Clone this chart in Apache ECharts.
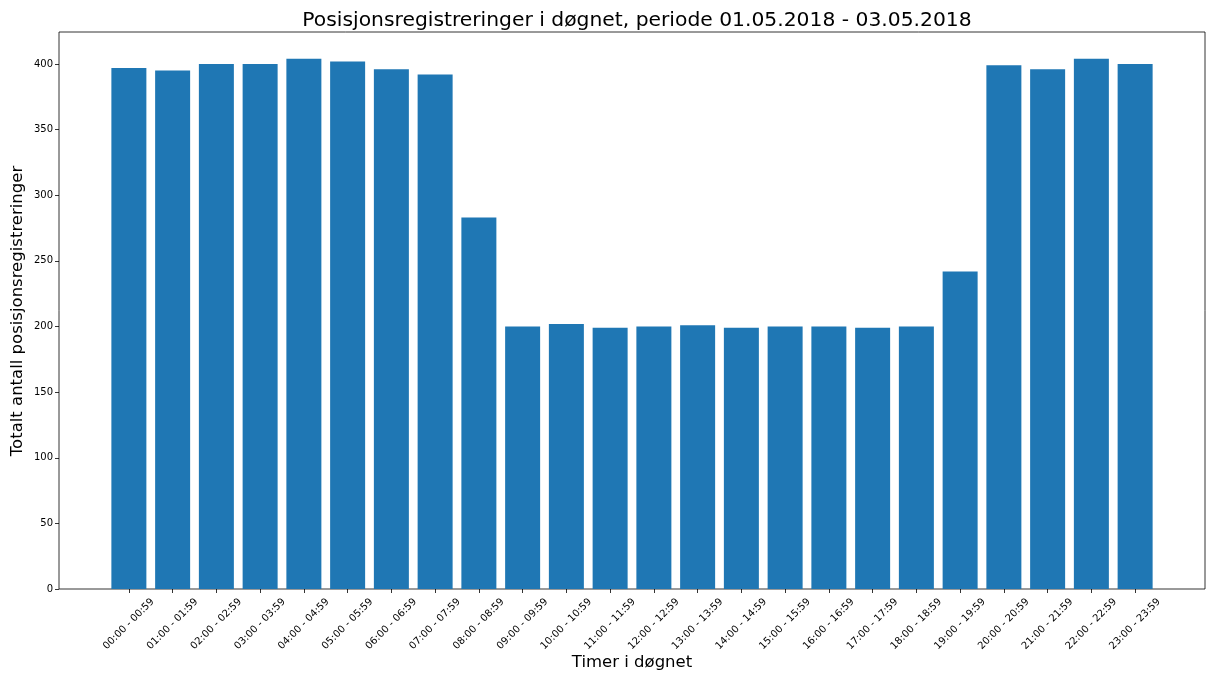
<!DOCTYPE html>
<html>
<head>
<meta charset="utf-8">
<script src="https://cdn.jsdelivr.net/npm/echarts@6/dist/echarts.min.js"></script>
<style>
  html, body { margin: 0; padding: 0; background: #fff; }
  #chart { width: 1206px; height: 678px; }
</style>
</head>
<body>
<div id="chart"></div>
<script>
const hours = [
  '00:00 - 00:59', '01:00 - 01:59', '02:00 - 02:59', '03:00 - 03:59',
  '04:00 - 04:59', '05:00 - 05:59', '06:00 - 06:59', '07:00 - 07:59',
  '08:00 - 08:59', '09:00 - 09:59', '10:00 - 10:59', '11:00 - 11:59',
  '12:00 - 12:59', '13:00 - 13:59', '14:00 - 14:59', '15:00 - 15:59',
  '16:00 - 16:59', '17:00 - 17:59', '18:00 - 18:59', '19:00 - 19:59',
  '20:00 - 20:59', '21:00 - 21:59', '22:00 - 22:59', '23:00 - 23:59'
];
const registrations = [
  397, 395, 400, 400, 404, 402, 396, 392,
  283, 200, 202, 199, 200, 201, 199, 200,
  200, 199, 200, 242, 399, 396, 404, 400
];
const yTicks = [0, 50, 100, 150, 200, 250, 300, 350, 400];
const yMax = 424.4;

const font = 'DejaVu Sans';
const chart = echarts.init(document.getElementById('chart'), null, { renderer: 'canvas' });

chart.setOption({
  animation: false,
  backgroundColor: '#fff',
  title: {
    text: 'Posisjonsregistreringer i døgnet, periode 01.05.2018 - 03.05.2018',
    left: 632,
    top: 6,
    textAlign: 'center',
    textStyle: { fontFamily: font, fontSize: 20.3, fontWeight: 'normal', color: '#000' }
  },
  grid: [
    // frame + y axis
    { left: 59, right: 1, top: 32, bottom: 89, outerBoundsMode: 'none', containLabel: false,
      show: true, borderColor: '#000', borderWidth: 0.8, backgroundColor: 'transparent' },
    // bars, inset like matplotlib's x margins
    { left: 107, right: 49, top: 32, bottom: 89, outerBoundsMode: 'none', containLabel: false }
  ],
  xAxis: [
    { gridIndex: 0, type: 'value', min: 0, max: 1, show: false },
    {
      gridIndex: 1,
      type: 'category',
      data: hours,
      axisLine: { show: false },
      axisTick: { show: true, alignWithLabel: true, length: 4, lineStyle: { color: '#000', width: 0.8 } },
      axisLabel: {
        interval: 0, rotate: 45, margin: 35, align: 'center', verticalAlign: 'middle',
        fontFamily: font, fontSize: 10, color: '#000'
      }
    }
  ],
  yAxis: [
    {
      gridIndex: 0, type: 'value', min: 0, max: yMax,
      splitLine: { show: false },
      axisLine: { show: false },
      axisTick: { show: true, length: 4, customValues: yTicks, lineStyle: { color: '#000', width: 0.8 } },
      axisLabel: {
        margin: 6, fontFamily: font, fontSize: 10, color: '#000', customValues: yTicks
      }
    },
    { gridIndex: 1, type: 'value', min: 0, max: yMax, show: false }
  ],
  graphic: [
    {
      type: 'text',
      x: 632,
      y: 663,
      style: {
        text: 'Timer i døgnet',
        fontFamily: font, fontSize: 16.5, fill: '#000',
        align: 'center', verticalAlign: 'middle'
      }
    },
    {
      type: 'text',
      x: 18,
      y: 311,
      rotation: Math.PI / 2,
      style: {
        text: 'Totalt antall posisjonsregistreringer',
        fontFamily: font, fontSize: 16.5, fill: '#000',
        align: 'center', verticalAlign: 'middle'
      }
    }
  ],
  series: [{
    type: 'bar',
    xAxisIndex: 1,
    yAxisIndex: 1,
    data: registrations,
    barCategoryGap: '20%',
    itemStyle: { color: '#1f77b4' }
  }]
});
</script>
</body>
</html>
